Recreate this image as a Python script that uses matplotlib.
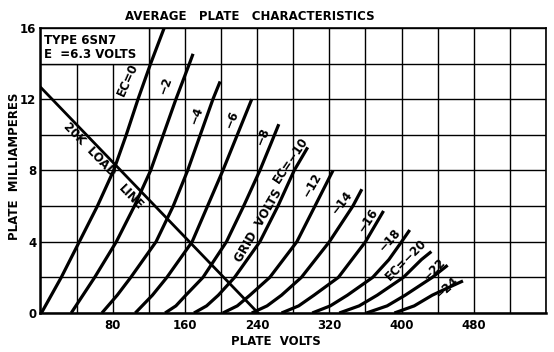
import matplotlib.pyplot as plt
from matplotlib.patches import Rectangle
import numpy as np

# grid bias of each curve and points (plate volts, plate mA)
grid_volts = [0, -2, -4, -6, -8, -10, -12, -14, -16, -18, -20, -22, -24]
curve_v = [
    [1, 12, 23, 43, 63, 81, 95, 108, 122, 137],
    [34, 47, 60, 84, 104, 122, 136, 150, 165, 169],
    [68, 85, 100, 128, 147, 163, 177, 191, 199],
    [105, 124, 140, 168, 185, 202, 218, 234],
    [138, 150, 161, 180, 206, 225, 243, 256, 264],
    [170, 184, 197, 215, 243, 263, 281, 296],
    [202, 218, 232, 254, 284, 304, 324],
    [234, 251, 267, 289, 320, 346, 356],
    [267, 286, 303, 330, 360, 380],
    [301, 321, 340, 368, 386, 400, 409],
    [331, 353, 373, 402, 422, 433],
    [361, 384, 404, 434, 451],
    [392, 414, 434, 455, 468],
]
curve_ma = [
    [0, 1, 2, 4, 6, 8, 10, 12, 14, 16],
    [0, 1, 2, 4, 6, 8, 10, 12, 14, 14.55],
    [0, 1, 2, 4, 6, 8, 10, 12, 13.0],
    [0, 1, 2, 4, 6, 8, 10, 12.0],
    [0, 0.4, 1, 2, 4, 6, 8, 9.6, 10.6],
    [0, 0.4, 1, 2, 4, 6, 8, 9.3],
    [0, 0.4, 1, 2, 4, 6, 8.0],
    [0, 0.4, 1, 2, 4, 6, 6.95],
    [0, 0.4, 1, 2, 4, 5.73],
    [0, 0.4, 1, 2, 3, 4, 4.66],
    [0, 0.4, 1, 2, 3, 3.45],
    [0, 0.4, 1, 2, 2.68],
    [0, 0.4, 1, 1.5, 1.8],
]

# 20K load line
load_v = [0, 241]
load_ma = [12.68, 0]

x_ticks = [80, 160, 240, 320, 400, 480]
y_ticks = [0, 4, 8, 12, 16]

curve_labels = ['EC=0', '−2', '−4', '−6', '−8', 'EC=−10', '−12', '−14',
                '−16', '−18', 'EC=−20', '−22', '−24']

fig = plt.figure(figsize=(5.54, 3.52), dpi=100)
ax = fig.add_axes([0.0731, 0.1108, 0.9125, 0.8097])

bold = dict(fontweight='bold', color='black', family='DejaVu Sans')

# grid every 40 V and 2 mA
ax.set_xlim(0, 560)
ax.set_ylim(0, 16)
ax.set_xticks(x_ticks)
ax.set_xticks(np.arange(0, 561, 40), minor=True)
ax.set_yticks(y_ticks)
ax.set_yticks(np.arange(0, 17, 2), minor=True)
ax.set_xticklabels([str(t) for t in x_ticks], fontsize=8.5, **bold)
ax.set_yticklabels([str(t) for t in y_ticks], fontsize=8.5, **bold)
ax.tick_params(which='both', length=0)
ax.tick_params(axis='x', pad=4)
ax.tick_params(axis='y', pad=3)
ax.set_axisbelow(True)
ax.grid(which='both', color='black', linewidth=1.0)
for s in ax.spines.values():
    s.set_linewidth(1.2)
ax.spines['left'].set_linewidth(1.8)
ax.spines['bottom'].set_linewidth(1.8)

# info box in the corner
ax.add_patch(Rectangle((0, 14), 120, 2, facecolor='white', edgecolor='black',
                       linewidth=1.0, zorder=1.5))
ax.text(4, 15.65, 'TYPE 6SN7\nE  =6.3 VOLTS', fontsize=8.5, va='top', ha='left',
        linespacing=1.05, zorder=3, **bold)

for v, ma in zip(curve_v, curve_ma):
    ax.plot(v, ma, color='black', linewidth=2.3, solid_capstyle='butt',
            solid_joinstyle='round', zorder=2)

ax.plot(load_v, load_ma, color='black', linewidth=2.0, zorder=2)

# curve labels: (volts, mA, rotation)
label_pos = [(97, 13.1, 66), (139, 12.8, 70), (173, 11.1, 70), (212, 10.9, 68),
             (246, 9.9, 68), (277, 8.6, 56), (301, 7.2, 60), (334, 6.2, 52),
             (363, 5.2, 56), (387, 4.1, 48), (405, 3.0, 45), (436, 2.45, 45),
             (450, 1.45, 42)]
for txt, (x, y, r) in zip(curve_labels, label_pos):
    ax.text(x, y, txt, fontsize=8.5, rotation=r, ha='center', va='center',
            rotation_mode='anchor', zorder=3, **bold)

ax.text(241, 4.9, 'GRID  VOLTS', fontsize=8.5, rotation=60, ha='center',
        va='center', rotation_mode='anchor', zorder=3, **bold)
ax.text(54, 9.2, '20K  LOAD', fontsize=8.5, rotation=-46, ha='center',
        va='center', rotation_mode='anchor', zorder=3, **bold)
ax.text(100, 6.5, 'LINE', fontsize=8.5, rotation=-46, ha='center',
        va='center', rotation_mode='anchor', zorder=3, **bold)

fig.text(0.451, 0.952, 'AVERAGE   PLATE   CHARACTERISTICS', fontsize=8.5,
         ha='center', va='center', **bold)
fig.text(0.498, 0.031, 'PLATE  VOLTS', fontsize=8.5, ha='center', va='center', **bold)
fig.text(0.027, 0.528, 'PLATE  MILLIAMPERES', fontsize=8.5, rotation=90,
         ha='center', va='center', **bold)

fig.savefig('out.png', dpi=100)
